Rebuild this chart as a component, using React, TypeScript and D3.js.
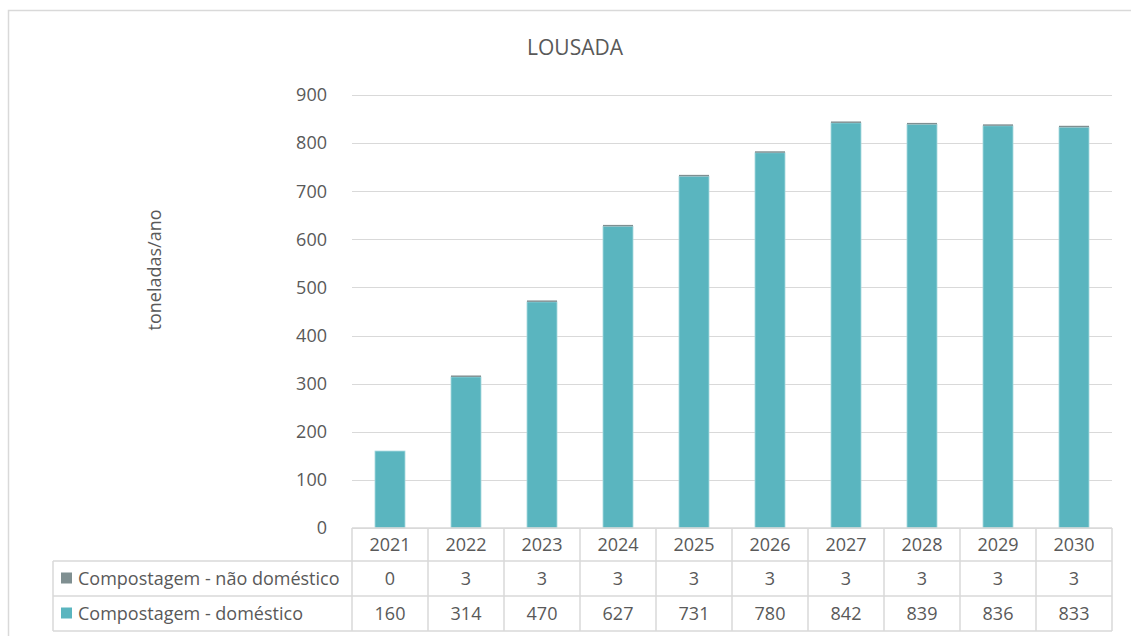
import { useEffect, useRef } from 'react';
import * as d3 from 'd3';

const years = ['2021', '2022', '2023', '2024', '2025', '2026', '2027', '2028', '2029', '2030'];
const naoDomestico = [0, 3, 3, 3, 3, 3, 3, 3, 3, 3];
const domestico = [160, 314, 470, 627, 731, 780, 842, 839, 836, 833];
const yTicks = [0, 100, 200, 300, 400, 500, 600, 700, 800, 900];

const seriesNames = ['Compostagem - não doméstico', 'Compostagem - doméstico'];
const seriesColors = ['#7F8F91', '#5AB5BF'];

const width = 1131;
const height = 636;
const font = '"Open Sans", "Noto Sans", sans-serif';
const textColor = '#595959';
const fs = 18;

export default function App() {
  const svgRef = useRef<SVGSVGElement>(null);

  useEffect(() => {
    if (!svgRef.current) return;
    const svg = d3.select(svgRef.current);
    svg.selectAll('*').remove();

    const plot = { left: 352, right: 1112, top: 95, bottom: 528 };
    const rowH = [33, 35, 35];
    const tableLeft = 53;

    // outer chart border
    svg.append('rect')
      .attr('x', 8.5).attr('y', 10.5)
      .attr('width', 1140).attr('height', 640)
      .attr('fill', '#fff')
      .attr('stroke', '#D9D9D9')
      .attr('stroke-width', 1.5);

    const x = d3.scaleBand<string>()
      .domain(years)
      .range([plot.left, plot.right])
      .paddingInner(0.605)
      .paddingOuter(0.3025);

    const y = d3.scaleLinear()
      .domain([0, 900])
      .range([plot.bottom, plot.top]);

    // gridlines
    svg.append('g')
      .selectAll('line')
      .data(yTicks)
      .enter()
      .append('line')
      .attr('x1', plot.left).attr('x2', plot.right)
      .attr('y1', (d) => Math.round(y(d)) + 0.5)
      .attr('y2', (d) => Math.round(y(d)) + 0.5)
      .attr('stroke', '#D9D9D9')
      .attr('stroke-width', 1);

    // y tick labels
    svg.append('g')
      .selectAll('text')
      .data(yTicks)
      .enter()
      .append('text')
      .attr('x', plot.left - 25)
      .attr('y', (d) => y(d))
      .attr('dy', '0.35em')
      .attr('text-anchor', 'end')
      .attr('font-family', font)
      .attr('font-size', fs)
      .attr('fill', textColor)
      .text((d) => d);

    // stacked bars
    const rows = years.map((yr, i) => ({ year: yr, dom: domestico[i], nao: naoDomestico[i] }));
    const stack = d3.stack<{ year: string; dom: number; nao: number }>().keys(['dom', 'nao']);
    const stacked = stack(rows);
    const colorByKey: Record<string, string> = { dom: seriesColors[1], nao: seriesColors[0] };

    stacked.forEach((layer) => {
      svg.append('g')
        .selectAll('rect')
        .data(layer)
        .enter()
        .append('rect')
        .attr('x', (d) => x(d.data.year)!)
        .attr('width', x.bandwidth())
        .attr('y', (d) => y(d[1]))
        .attr('height', (d) => Math.max(0, y(d[0]) - y(d[1])))
        .attr('fill', colorByKey[layer.key])
        .attr('stroke', layer.key === 'dom' ? '#A9DAE0' : 'none')
        .attr('stroke-width', 0.8);
    });

    // title
    svg.append('text')
      .attr('x', 575)
      .attr('y', 55)
      .attr('text-anchor', 'middle')
      .attr('font-family', font)
      .attr('font-size', 21)
      .attr('fill', textColor)
      .text('LOUSADA');

    // y axis title
    svg.append('text')
      .attr('transform', `translate(161, 270) rotate(-90)`)
      .attr('text-anchor', 'middle')
      .attr('font-family', font)
      .attr('font-size', fs)
      .attr('fill', textColor)
      .text('toneladas/ano');

    // data table
    const table = svg.append('g');
    const step = x.step();
    const colX = (i: number) => plot.left + i * step;
    const r0 = plot.bottom;
    const r1 = r0 + rowH[0];
    const r2 = r1 + rowH[1];
    const r3 = r2 + rowH[2];
    const lineStyle = (sel: d3.Selection<SVGLineElement, unknown, null, undefined>) =>
      sel.attr('stroke', '#D9D9D9').attr('stroke-width', 1.5);

    // horizontal lines
    [[plot.left, r0], [tableLeft, r1], [tableLeft, r2], [tableLeft, r3]].forEach(([x0, yy]) => {
      table.append('line')
        .attr('x1', x0).attr('x2', plot.right)
        .attr('y1', yy).attr('y2', yy)
        .call(lineStyle);
    });
    // vertical lines
    table.append('line')
      .attr('x1', tableLeft).attr('x2', tableLeft)
      .attr('y1', r1).attr('y2', r3)
      .call(lineStyle);
    d3.range(years.length + 1).forEach((i) => {
      table.append('line')
        .attr('x1', colX(i)).attr('x2', colX(i))
        .attr('y1', r0).attr('y2', r3)
        .call(lineStyle);
    });

    // year header
    table.selectAll('text.year')
      .data(years)
      .enter()
      .append('text')
      .attr('class', 'year')
      .attr('x', (d) => x(d)! + x.bandwidth() / 2)
      .attr('y', (r0 + r1) / 2)
      .attr('dy', '0.35em')
      .attr('text-anchor', 'middle')
      .attr('font-family', font)
      .attr('font-size', fs)
      .attr('fill', textColor)
      .text((d) => d);

    const seriesRows = [
      { name: seriesNames[0], color: seriesColors[0], values: naoDomestico, top: r1, bottom: r2 },
      { name: seriesNames[1], color: seriesColors[1], values: domestico, top: r2, bottom: r3 },
    ];

    seriesRows.forEach((s) => {
      const cy = (s.top + s.bottom) / 2;
      table.append('rect')
        .attr('x', 61).attr('y', cy - 6)
        .attr('width', 11).attr('height', 11)
        .attr('fill', s.color);
      table.append('text')
        .attr('x', 78).attr('y', cy)
        .attr('dy', '0.35em')
        .attr('font-family', font)
        .attr('font-size', fs)
        .attr('fill', textColor)
        .text(s.name);
      table.selectAll(null)
        .data(s.values)
        .enter()
        .append('text')
        .attr('x', (_d, i) => x(years[i])! + x.bandwidth() / 2)
        .attr('y', cy)
        .attr('dy', '0.35em')
        .attr('text-anchor', 'middle')
        .attr('font-family', font)
        .attr('font-size', fs)
        .attr('fill', textColor)
        .text((d) => d);
    });
  }, []);

  return (
    <svg
      ref={svgRef}
      width={width}
      height={height}
      style={{ position: 'absolute', left: 0, top: 0, background: '#fff' }}
    />
  );
}
